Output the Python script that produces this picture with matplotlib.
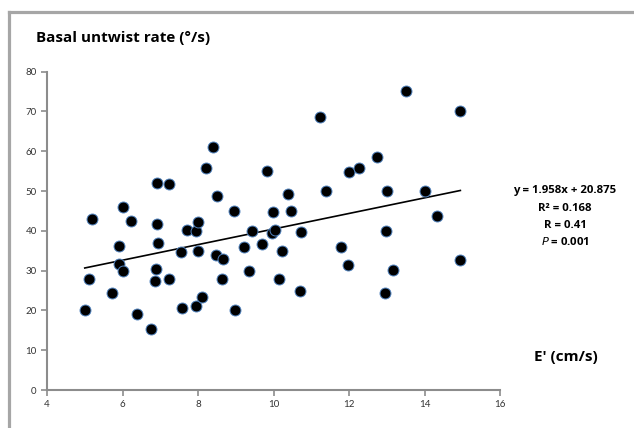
import matplotlib
matplotlib.use("Agg")
import matplotlib.pyplot as plt
from matplotlib.lines import Line2D
import numpy as np

# E' (cm/s) vs basal untwist rate (deg/s)
e_prime = [5.0, 5.1, 5.2, 5.72, 5.9, 5.9, 6.0, 6.0, 6.22, 6.39, 6.76, 6.85, 6.9,
           6.93, 6.91, 6.92, 7.22, 7.22, 7.56, 7.57, 7.72, 7.95, 8.0, 8.0, 7.96,
           8.11, 8.22, 8.4, 8.51, 8.49, 8.67, 8.64, 8.95, 8.99, 9.22, 9.36, 9.42,
           9.69, 9.82, 9.96, 10.03, 9.99, 10.15, 10.23, 10.39, 10.47, 10.73, 10.69,
           13.5, 11.24, 14.95, 12.73, 12.0, 12.26, 11.39, 13.0, 14.0, 14.34, 12.97,
           11.8, 14.95, 11.98, 13.17, 12.96]
untwist = [20.0, 27.9, 43.0, 24.4, 31.7, 36.2, 29.9, 46.1, 42.4, 19.0, 15.4, 27.3, 30.5,
           37.0, 41.7, 52.0, 51.8, 27.9, 34.6, 20.5, 40.2, 39.9, 42.3, 34.9, 21.1,
           23.4, 55.9, 61.1, 48.7, 33.9, 33.0, 27.9, 45.1, 20.2, 35.9, 29.9, 39.9,
           36.8, 55.0, 39.5, 40.1, 44.8, 27.9, 35.0, 49.3, 44.9, 39.6, 24.9,
           75.1, 68.7, 70.0, 58.5, 54.9, 55.7, 50.0, 50.0, 50.0, 43.7, 40.0,
           35.9, 32.7, 31.4, 30.2, 24.3]
slope = 1.958
intercept = 20.875
stats_lines = ["y = 1.958x + 20.875", "R² = 0.168", "R = 0.41", "$\\bf{\\it{P}}$ = 0.001"]

plt.rcParams['font.family'] = ['Lato', 'DejaVu Sans']
bold_font = ['Open Sans', 'DejaVu Sans']

fig = plt.figure(figsize=(6.34, 4.28), dpi=100)
ax = fig.add_axes([47 / 634, 38 / 428, 453 / 634, 318.3 / 428])

ax.scatter(e_prime, untwist, s=62, c='black', edgecolors='#4f81bd', linewidths=0.7, zorder=3)

xl = np.array([min(e_prime), max(e_prime)])
ax.plot(xl, slope * xl + intercept, color='black', linewidth=1.2, zorder=2)

ax.set_xlim(4, 16)
ax.set_ylim(0, 80)
ax.set_xticks(range(4, 17, 2))
ax.set_yticks(range(0, 81, 10))
for s in ['top', 'right']:
    ax.spines[s].set_visible(False)
for s in ['left', 'bottom']:
    ax.spines[s].set_color('#8c8c8c')
    ax.spines[s].set_linewidth(1.5)
ax.tick_params(colors='#8c8c8c', labelcolor='#333333', labelsize=7, length=4, width=1.2,
               direction='out')

fig.text(36 / 634, 1 - 38 / 428, "Basal untwist rate (°/s)", fontsize=11, fontweight='bold',
         family=bold_font, va='center', ha='left')
fig.text(566 / 634, 1 - 357 / 428, "E' (cm/s)", fontsize=11, fontweight='bold',
         family=bold_font, va='center', ha='center')
for i, line in enumerate(stats_lines):
    fig.text(565 / 634, 1 - (191 + 17 * i) / 428, line, fontsize=8.2, fontweight='bold',
             family=bold_font, va='center', ha='center')

# grey frame (top and left edges)
fig.add_artist(Line2D([8.5 / 634, 1], [1 - 11.5 / 428, 1 - 11.5 / 428], color='#a6a6a6',
                      linewidth=2.3, transform=fig.transFigure))
fig.add_artist(Line2D([8.5 / 634, 8.5 / 634], [0, 1 - 11.5 / 428], color='#a6a6a6',
                      linewidth=2.3, transform=fig.transFigure))

fig.savefig("out.png", dpi=100)
